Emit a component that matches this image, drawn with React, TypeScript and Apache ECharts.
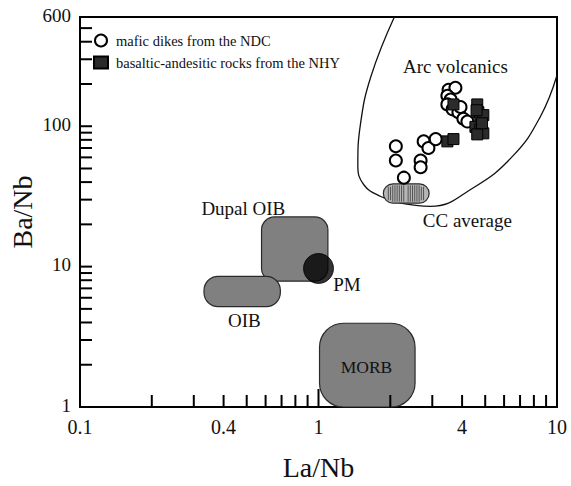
import { useEffect, useRef } from 'react';
import * as echarts from 'echarts';

// ---------- data ----------
const xTickLabels = [0.1, 0.4, 1, 4, 10];
const yTickLabels = [1, 10, 100, 600];
const xTicks = [0.2, 0.3, 0.4, 0.5, 0.6, 0.7, 0.8, 0.9, 1, 2, 3, 4, 5, 6, 7, 8, 9];
const yTicks = [2, 3, 4, 5, 6, 7, 8, 9, 10, 20, 30, 40, 50, 60, 70, 80, 90, 100, 200, 300, 400, 500];

const ndcDikes: number[][] = [
  [2.11, 72], [2.11, 57], [2.28, 43], [2.68, 57], [2.68, 51], [2.76, 78], [2.89, 70], [3.1, 81],
  [3.51, 182], [3.75, 188], [3.47, 165], [3.58, 155], [3.47, 143], [3.65, 132], [3.86, 126],
  [3.94, 137], [4.05, 113], [4.21, 108],
];
const nhyRocks: number[][] = [
  [3.68, 143], [4.63, 143], [4.68, 126], [4.77, 113], [4.55, 99], [4.77, 95], [4.91, 89],
  [4.63, 87.5], [4.91, 120], [3.47, 78], [3.68, 81], [4.6, 130], [4.85, 105],
];
const arcEnvelope: number[][] = [
  [2.08, 600], [1.66, 227], [1.5, 104], [1.462, 52.6], [1.549, 38.3], [1.824, 31.6],
  [2.21, 28.3], [2.95, 26.9], [4.46, 36.5], [6.55, 61.7], [8.49, 116], [10, 231],
];
// fields: [La/Nb min, La/Nb max, Ba/Nb min, Ba/Nb max]
const dupalOibField = [0.577, 1.095, 7.87, 22.6];
const oibField = [0.331, 0.692, 5.19, 8.52];
const morbField = [1.01, 2.54, 1.0, 3.95];
const ccAverageField = [1.87, 2.91, 28.3, 38.9];
const pmPoint = [1, 9.7];

const fieldLabels = [
  { text: 'Dupal OIB', at: [0.484, 26.1] },
  { text: 'OIB', at: [0.489, 4.12] },
  { text: 'PM', at: [1.315, 7.43] },
  { text: 'MORB', at: [1.59, 1.92] },
  { text: 'Arc volcanics', at: [3.75, 267] },
  { text: 'CC average', at: [4.21, 21.2] },
];

const SERIF = '"Liberation Serif", "Times New Roman", "DejaVu Serif", serif';
const fieldRadius = [13, 14, 24];

export default function App() {
  const ref = useRef<HTMLDivElement>(null);
  useEffect(() => {
    if (!ref.current) return;
    const chart = echarts.init(ref.current, undefined, { renderer: 'svg' });
    const option: any = {
      animation: false,
      backgroundColor: '#fff',
      grid: { left: 78, top: 17, width: 479, height: 402, show: true, borderColor: '#000', borderWidth: 2, backgroundColor: 'transparent' },
      legend: {
        orient: 'vertical',
        left: 88,
        top: 28,
        itemWidth: 14,
        itemHeight: 12,
        itemGap: 7,
        data: [
          { name: 'mafic dikes from the NDC', icon: 'circle' },
          { name: 'basaltic-andesitic rocks from the NHY', icon: 'rect' },
        ],
        textStyle: { fontFamily: SERIF, fontSize: 14.5, color: '#111', padding: [0, 0, 0, 3] },
      },
      xAxis: {
        type: 'log', logBase: 10, min: 0.1, max: 10,
        name: 'La/Nb', nameLocation: 'middle', nameGap: 46,
        nameTextStyle: { fontFamily: SERIF, fontSize: 28, color: '#111' },
        axisLine: { show: true, lineStyle: { color: '#000', width: 2 } },
        axisTick: { show: false }, axisLabel: { show: false }, splitLine: { show: false }, minorTick: { show: false },
      },
      yAxis: {
        type: 'log', logBase: 10, min: 1, max: 600,
        name: 'Ba/Nb', nameLocation: 'middle', nameGap: 44,
        nameTextStyle: { fontFamily: SERIF, fontSize: 28, color: '#111' },
        axisLine: { show: true, lineStyle: { color: '#000', width: 2 } },
        axisTick: { show: false }, axisLabel: { show: false }, splitLine: { show: false }, minorTick: { show: false },
      },
      series: [
        {
          type: 'line', data: arcEnvelope, smooth: 0.45, symbol: 'none', clip: true, z: 3,
          lineStyle: { color: '#111', width: 1.3 }, silent: true,
        },
        {
          type: 'custom', z: 4, clip: false,
          dimensions: ['x0', 'x1', 'y0', 'y1'],
          encode: { x: [0, 1], y: [2, 3] },
          data: [dupalOibField, oibField, morbField],
          renderItem: (params: any, api: any) => {
            const p0 = api.coord([api.value(0), api.value(3)]);
            const p1 = api.coord([api.value(1), api.value(2)]);
            return {
              type: 'rect',
              shape: { x: p0[0], y: p0[1], width: p1[0] - p0[0], height: p1[1] - p0[1], r: fieldRadius[params.dataIndex] },
              style: { fill: '#808080', stroke: '#2a2a2a', lineWidth: 1.2 },
            };
          },
        },
        {
          type: 'custom', z: 4, clip: false,
          dimensions: ['x0', 'x1', 'y0', 'y1'],
          encode: { x: [0, 1], y: [2, 3] },
          data: [ccAverageField],
          renderItem: (_params: any, api: any) => {
            const p0 = api.coord([api.value(0), api.value(3)]);
            const p1 = api.coord([api.value(1), api.value(2)]);
            const w = p1[0] - p0[0];
            const h = p1[1] - p0[1];
            const children: any[] = [
              { type: 'rect', shape: { x: p0[0], y: p0[1], width: w, height: h, r: h / 2 }, style: { fill: '#b5b5b5', stroke: '#2a2a2a', lineWidth: 1.2 } },
            ];
            const mid = p0[0] + w / 2;
            for (let x = p0[0] + 5; x < p1[0] - 4; x += 2.2) {
              if (Math.abs(x - mid) < 1.5) continue;
              const inset = Math.min(x - p0[0], p1[0] - x) < 8 ? 3 : 1.5;
              children.push({ type: 'line', shape: { x1: x, y1: p0[1] + inset, x2: x, y2: p1[1] - inset }, style: { stroke: '#4a4a4a', lineWidth: 0.9 } });
            }
            return { type: 'group', children };
          },
        },
        {
          type: 'scatter', data: [pmPoint], symbol: 'circle', symbolSize: 30, z: 5,
          itemStyle: { color: '#000', borderColor: '#000', borderWidth: 1 }, silent: true,
        },
        {
          name: 'mafic dikes from the NDC', type: 'scatter', data: ndcDikes, symbol: 'circle', symbolSize: 12, z: 6,
          itemStyle: { color: '#fff', borderColor: '#000', borderWidth: 2, opacity: 1 },
        },
        {
          name: 'basaltic-andesitic rocks from the NHY', type: 'scatter', data: nhyRocks, symbol: 'rect', symbolSize: 11, z: 7,
          itemStyle: { color: '#2b2b2b', borderColor: '#000', borderWidth: 1, opacity: 1 },
        },
        {
          type: 'custom', z: 8, clip: false, silent: true,
          data: fieldLabels.map((l) => [l.at[0], l.at[1], l.text]),
          renderItem: (_params: any, api: any) => {
            const p = api.coord([api.value(0), api.value(1)]);
            const t = api.value(2);
            return {
              type: 'text',
              style: { x: p[0], y: p[1], text: t, textAlign: 'center', textVerticalAlign: 'middle', fill: '#111', font: `${t === 'MORB' ? 17.5 : 19}px ${SERIF}` },
            };
          },
        },
        {
          type: 'custom', z: 9, clip: false, silent: true,
          data: xTicks.map((v) => [v, 1]),
          renderItem: (_params: any, api: any) => {
            const v = api.value(0);
            const p = api.coord([v, api.value(1)]);
            const len = v === 1 ? 18 : 12;
            return { type: 'line', shape: { x1: p[0], y1: p[1], x2: p[0], y2: p[1] - len }, style: { stroke: '#000', lineWidth: 2 } };
          },
        },
        {
          type: 'custom', z: 9, clip: false, silent: true,
          data: yTicks.map((v) => [0.1, v]),
          renderItem: (_params: any, api: any) => {
            const p = api.coord([api.value(0), api.value(1)]);
            return { type: 'line', shape: { x1: p[0], y1: p[1], x2: p[0] + 12, y2: p[1] }, style: { stroke: '#000', lineWidth: 2 } };
          },
        },
        {
          type: 'custom', z: 9, clip: false, silent: true,
          data: xTickLabels.map((v) => [v, 1]),
          renderItem: (_params: any, api: any) => {
            const v = api.value(0);
            const p = api.coord([v, api.value(1)]);
            return { type: 'text', style: { x: p[0], y: p[1] + 20, text: String(v), textAlign: 'center', textVerticalAlign: 'middle', fill: '#111', font: `20px ${SERIF}` } };
          },
        },
        {
          type: 'custom', z: 9, clip: false, silent: true,
          data: yTickLabels.map((v) => [0.1, v]),
          renderItem: (_params: any, api: any) => {
            const v = api.value(1);
            const p = api.coord([api.value(0), v]);
            return { type: 'text', style: { x: p[0] - 9, y: p[1] - 2, text: String(v), textAlign: 'right', textVerticalAlign: 'middle', fill: '#111', font: `19px ${SERIF}` } };
          },
        },
      ],
    };
    chart.setOption(option);
    return () => chart.dispose();
  }, []);
  return <div ref={ref} style={{ position: 'fixed', left: 0, top: 0, width: 571, height: 486 }} />;
}
